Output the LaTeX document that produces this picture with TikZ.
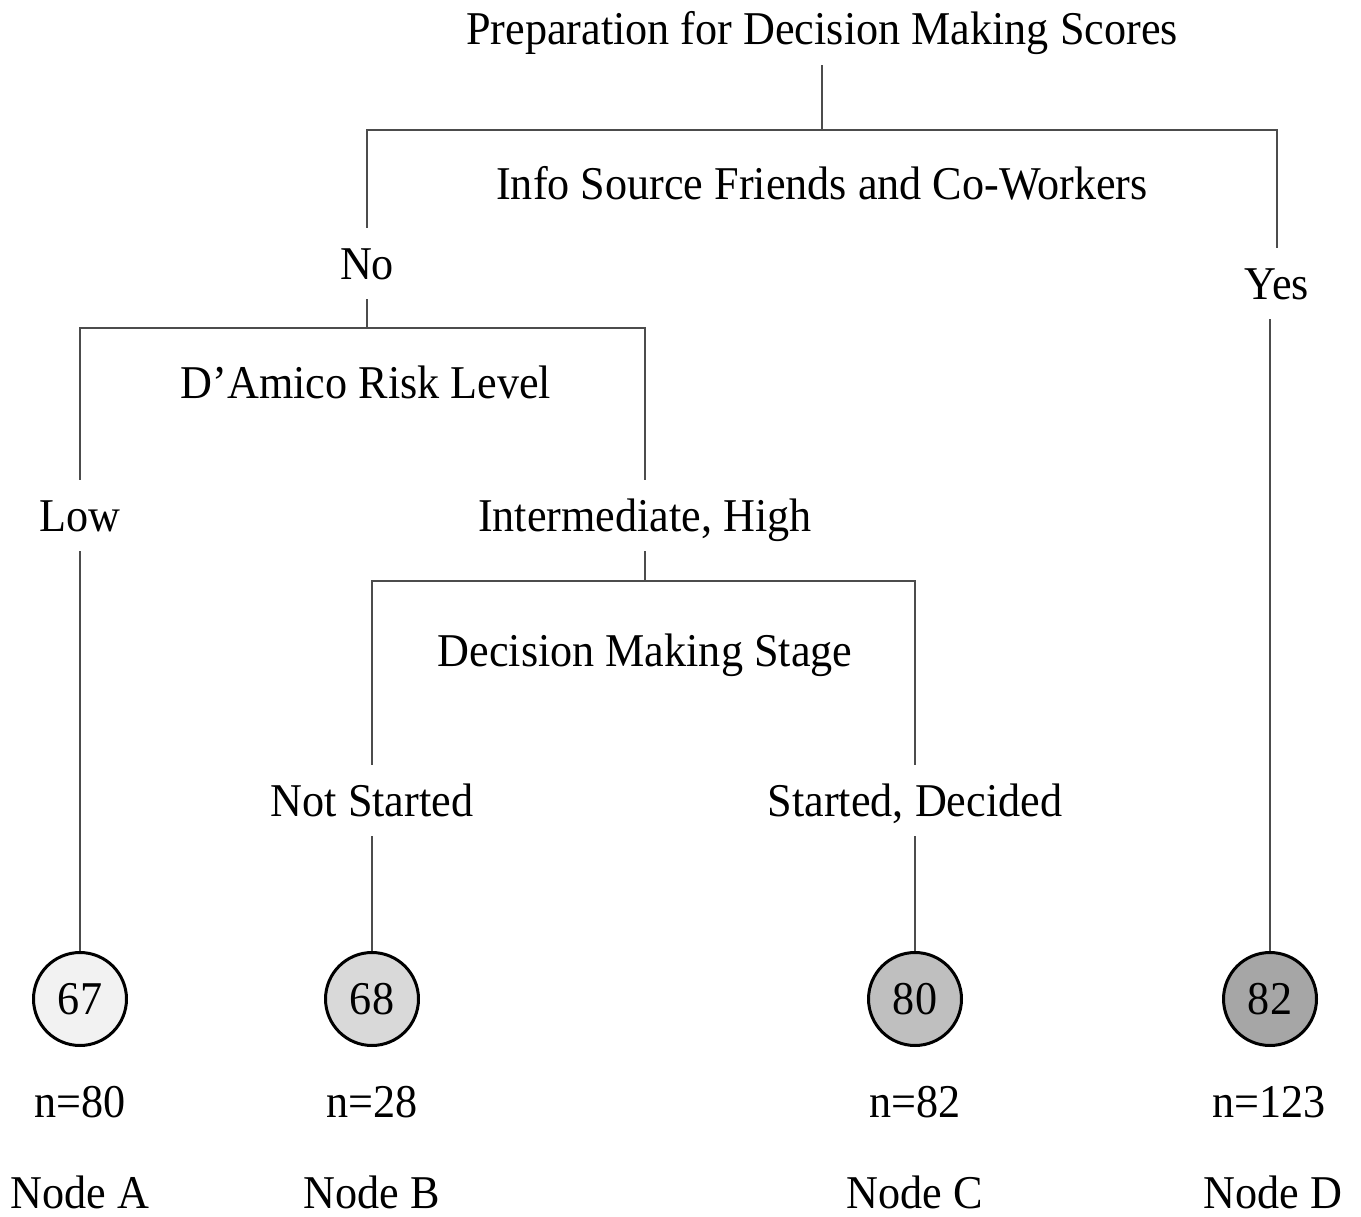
\documentclass[tikz,border=0pt]{standalone}
\usepackage{fontspec}
\setmainfont{Liberation Serif}[FakeStretch=0.94]
\usepackage{tikz}
\usetikzlibrary{positioning}
\definecolor{leafA}{HTML}{F2F2F2}
\definecolor{leafB}{HTML}{D9D9D9}
\definecolor{leafC}{HTML}{BFBFBF}
\definecolor{leafD}{HTML}{A6A6A6}

\begin{document}
\begin{tikzpicture}[x=0.02cm,y=-0.02cm,
  txt/.style={anchor=base,inner xsep=2pt,inner ysep=0.4cm,text height=0.62cm,text depth=0pt,
              font=\fontsize{26.75pt}{32pt}\selectfont},
  foot/.style={txt,inner ysep=0pt},
  leaf/.style={circle,draw=black,line width=0.06cm,minimum size=1.86cm,inner sep=0pt,
               font=\fontsize{26.75pt}{32pt}\selectfont},
  edge/.style={draw=black!70,line width=0.03cm}]
  \useasboundingbox (0,0) rectangle (1361,1216);
  % splits
  \node[txt] (root) at (822,45) {Preparation for Decision Making Scores};
  \node[txt] (info) at (822,200) {Info Source Friends and Co-Workers};
  \node[txt] (no) at (367,279) {No};
  \node[txt] (yes) at (1277,299) {Yes};
  \node[txt] (risk) at (366,398) {D'Amico Risk Level};
  \node[txt] (low) at (80,531) {Low};
  \node[txt] (mid) at (645,531) {Intermediate, High};
  \node[txt] (stage) at (645,666) {Decision Making Stage};
  \node[txt] (ns) at (372,816) {Not Started};
  \node[txt] (sd) at (915,816) {Started, Decided};
  % leaves
  \node[leaf,fill=leafA] (nA) at (80,999) {67};
  \node[leaf,fill=leafB] (nB) at (372,999) {68};
  \node[leaf,fill=leafC] (nC) at (915,999) {80};
  \node[leaf,fill=leafD] (nD) at (1270,999) {82};
  \node[foot] (cA) at (80,1117) {n=80};
  \node[foot] (cB) at (372,1117) {n=28};
  \node[foot] (cC) at (915,1117) {n=82};
  \node[foot] (cD) at (1269,1117) {n=123};
  \node[foot] (tA) at (80,1208) {Node A};
  \node[foot] (tB) at (372,1208) {Node B};
  \node[foot] (tC) at (915,1208) {Node C};
  \node[foot] (tD) at (1273,1208) {Node D};
  % connectors
  \coordinate (j1) at (822,130);
  \coordinate (j2) at (367,328);
  \coordinate (j3) at (645,581);
  \draw[edge] (root) -- (j1);
  \draw[edge] (no) |- (j1) -| (yes);
  \draw[edge] (no) -- (j2);
  \draw[edge] (low) |- (j2) -| (mid);
  \draw[edge] (mid) -- (j3);
  \draw[edge] (ns) |- (j3) -| (sd);
  \draw[edge] (low) -- (nA);
  \draw[edge] (ns) -- (nB);
  \draw[edge] (sd) -- (nC);
  \draw[edge] (yes.south -| nD) -- (nD);
\end{tikzpicture}
\end{document}
